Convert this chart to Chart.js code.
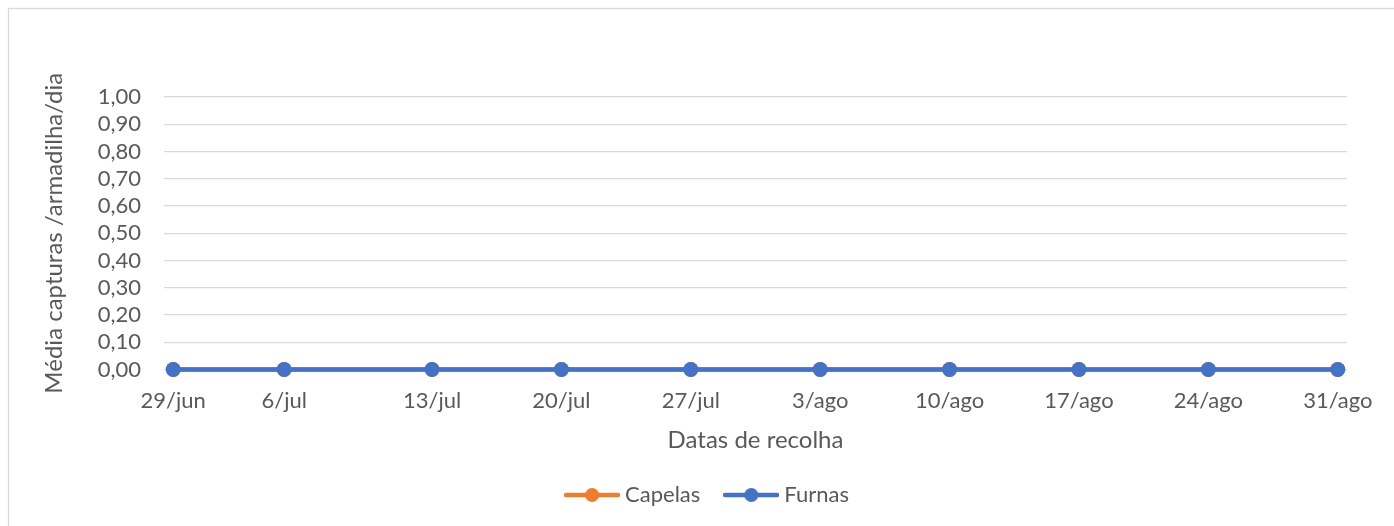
<!DOCTYPE html>
<html>
<head>
<meta charset="utf-8">
<script src="https://cdn.jsdelivr.net/npm/chart.js@4"></script>
<style>
  html, body { margin: 0; padding: 0; background: #ffffff; }
  #wrap { position: relative; width: 1394px; height: 526px; overflow: hidden; }
</style>
</head>
<body>
<div id="wrap"><canvas id="c" width="1394" height="526"></canvas></div>
<script>
// ---- data ----
const dateLabels = ['29/jun', '6/jul', '13/jul', '20/jul', '27/jul', '3/ago', '10/ago', '17/ago', '24/ago', '31/ago'];
const datePositions = [0, 6, 14, 21, 28, 35, 42, 49, 56, 63]; // days after 29/jun, as placed on the axis
const capelas = [0, 0, 0, 0, 0, 0, 0, 0, 0, 0];
const furnas = [0, 0, 0, 0, 0, 0, 0, 0, 0, 0];
const seriesNames = ['Capelas', 'Furnas'];
const yTitle = 'Média capturas /armadilha/dia';
const xTitle = 'Datas de recolha';

const ORANGE = '#ED7D31';
const BLUE = '#4472C4';
const TEXT = '#595959';
const FONT = 'Lato, Calibri, Carlito, "Noto Sans", sans-serif';

function pts(vals) { return vals.map((v, i) => ({ x: datePositions[i], y: v })); }

function legendIcon(color) {
  const cv = document.createElement('canvas');
  cv.width = 56; cv.height = 16;
  const g = cv.getContext('2d');
  g.strokeStyle = color; g.lineWidth = 4.5; g.lineCap = 'round';
  g.beginPath(); g.moveTo(2, 8); g.lineTo(54, 8); g.stroke();
  g.fillStyle = color;
  g.beginPath(); g.arc(28, 8, 7, 0, Math.PI * 2); g.fill();
  return cv;
}
const icons = [legendIcon(ORANGE), legendIcon(BLUE)];

const framePlugin = {
  id: 'frame',
  afterLayout(chart) {
    // legend is centred on the whole chart object, which extends past the right edge
    if (chart.legend) { chart.legend.left += 36; chart.legend.right += 36; }
  },
  beforeDraw(chart) {
    const ctx = chart.ctx;
    ctx.save();
    ctx.fillStyle = '#ffffff';
    ctx.fillRect(0, 0, chart.width, chart.height);
    ctx.strokeStyle = '#d9d9d9';
    ctx.lineWidth = 1.3;
    ctx.strokeRect(8.5, 8.5, 1500, 600);
    ctx.restore();
  }
};

new Chart(document.getElementById('c'), {
  type: 'line',
  data: {
    datasets: [
      { label: seriesNames[0], data: pts(capelas), borderColor: ORANGE, backgroundColor: ORANGE,
        borderWidth: 4.5, pointRadius: 7.5, pointHoverRadius: 7.5, pointBorderWidth: 0, order: 1 },
      { label: seriesNames[1], data: pts(furnas), borderColor: BLUE, backgroundColor: BLUE,
        borderWidth: 4.5, pointRadius: 7.5, pointHoverRadius: 7.5, pointBorderWidth: 0, order: 0 }
    ]
  },
  options: {
    responsive: false,
    animation: false,
    devicePixelRatio: 1,
    clip: false,
    layout: { padding: { left: 0, right: 47, top: 97, bottom: 10 } },
    plugins: {
      tooltip: { enabled: false },
      legend: {
        position: 'bottom',
        labels: {
          color: TEXT,
          font: { family: FONT, size: 22 },
          usePointStyle: true,
          pointStyleWidth: 44,
          padding: 29,
          sort: (a, b) => a.datasetIndex - b.datasetIndex,
          generateLabels(chart) {
            const items = Chart.defaults.plugins.legend.labels.generateLabels(chart);
            items.forEach(it => { it.pointStyle = icons[it.datasetIndex]; it.fontColor = TEXT; });
            return items;
          }
        }
      }
    },
    scales: {
      x: {
        type: 'linear',
        min: -0.5,
        max: 63.5,
        border: { display: false },
        grid: { display: false, drawTicks: false },
        afterBuildTicks(scale) { scale.ticks = datePositions.map(v => ({ value: v })); },
        ticks: {
          autoSkip: false,
          maxRotation: 0,
          padding: 18,
          color: TEXT,
          font: { family: FONT, size: 22 },
          callback: (v) => { const i = datePositions.indexOf(v); return i >= 0 ? dateLabels[i] : ''; }
        },
        title: { display: true, text: xTitle, color: TEXT, font: { family: FONT, size: 24 }, padding: { top: 10, bottom: 0 } },
        afterFit(scale) { scale.height = 85.5; }
      },
      y: {
        min: 0,
        max: 1,
        border: { display: false },
        grid: { color: '#d9d9d9', lineWidth: 1.3, drawTicks: false },
        ticks: {
          stepSize: 0.1,
          autoSkip: false,
          padding: 23,
          color: TEXT,
          font: { family: FONT, size: 22 },
          callback: (v) => Number(v).toFixed(2).replace('.', ',')
        },
        title: { display: true, text: yTitle, color: TEXT, font: { family: FONT, size: 24 }, padding: { top: 40, bottom: 0 } },
        afterFit(scale) { scale.width = 164; }
      }
    }
  },
  plugins: [framePlugin]
});
</script>
</body>
</html>
